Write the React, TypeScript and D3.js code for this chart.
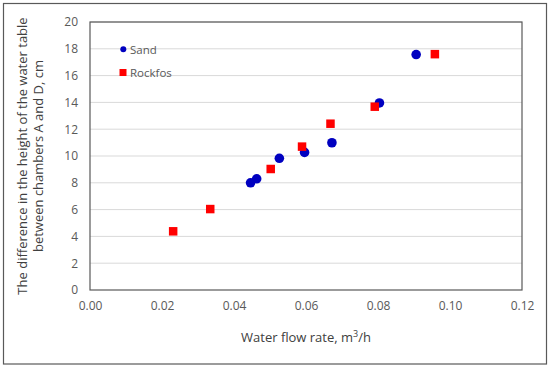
import React, { useEffect, useRef } from 'react';
import * as d3 from 'd3';

const sandFlow = [0.0446, 0.0463, 0.0526, 0.0596, 0.0672, 0.0804, 0.0906];
const sandHeight = [8.0, 8.3, 9.83, 10.27, 10.99, 13.96, 17.57];

const rockfosFlow = [0.0231, 0.0334, 0.0502, 0.0589, 0.0668, 0.0791, 0.0958];
const rockfosHeight = [4.38, 6.04, 9.03, 10.7, 12.41, 13.68, 17.6];

const xTicks = [0, 0.02, 0.04, 0.06, 0.08, 0.1, 0.12];
const yTicks = [0, 2, 4, 6, 8, 10, 12, 14, 16, 18, 20];

const BLUE = '#0000c0';
const RED = '#ff0000';
const FONT = 'Open Sans, sans-serif';

const App = () => {
  const ref = useRef<SVGSVGElement>(null);

  useEffect(() => {
    const svg = d3.select(ref.current);
    svg.selectAll('*').remove();

    const margin = { top: 22, right: 28, bottom: 78, left: 90 };
    const width = 550;
    const height = 368;

    const x = d3.scaleLinear().domain([0, 0.12]).range([margin.left, width - margin.right]);
    const y = d3.scaleLinear().domain([0, 20]).range([height - margin.bottom, margin.top]);

    // outer frame
    svg.append('rect')
      .attr('x', 3.5).attr('y', 3.5)
      .attr('width', 543).attr('height', 360.5)
      .attr('fill', '#fff').attr('stroke', '#595959').attr('stroke-width', 1.2);

    // gridlines
    svg.append('g')
      .selectAll('line')
      .data(yTicks.slice(1))
      .join('line')
      .attr('x1', x(0)).attr('x2', x(0.12))
      .attr('y1', d => y(d)).attr('y2', d => y(d))
      .attr('stroke', '#d9d9d9').attr('stroke-width', 1);

    // plot border
    svg.append('rect')
      .attr('x', x(0)).attr('y', y(20))
      .attr('width', x(0.12) - x(0)).attr('height', y(0) - y(20))
      .attr('fill', 'none').attr('stroke', '#595959').attr('stroke-width', 1.2);

    const yAxis = svg.append('g')
      .attr('transform', `translate(${x(0)},0)`)
      .call(d3.axisLeft(y).tickValues(yTicks).tickSize(0).tickPadding(12).tickFormat(d3.format('d')));
    yAxis.select('.domain').remove();

    const xAxis = svg.append('g')
      .attr('transform', `translate(0,${y(0)})`)
      .call(d3.axisBottom(x).tickValues(xTicks).tickSize(0).tickPadding(11).tickFormat(d3.format('.2f')));
    xAxis.select('.domain').remove();

    svg.selectAll('.tick text')
      .attr('fill', '#595959')
      .attr('font-family', FONT)
      .attr('font-size', 12);

    // data
    svg.append('g')
      .selectAll('circle')
      .data(sandFlow)
      .join('circle')
      .attr('cx', d => x(d))
      .attr('cy', (d, i) => y(sandHeight[i]))
      .attr('r', 4.8)
      .attr('fill', BLUE);

    const sq = 8.5;
    svg.append('g')
      .selectAll('rect')
      .data(rockfosFlow)
      .join('rect')
      .attr('x', d => x(d) - sq / 2)
      .attr('y', (d, i) => y(rockfosHeight[i]) - sq / 2)
      .attr('width', sq).attr('height', sq)
      .attr('fill', RED);

    // legend
    const lg = svg.append('g').attr('font-family', FONT).attr('font-size', 11.5).attr('fill', '#595959');
    lg.append('circle').attr('cx', 123.3).attr('cy', 49.3).attr('r', 3).attr('fill', BLUE);
    lg.append('text').attr('x', 130).attr('y', 53.5).text('Sand');
    lg.append('rect').attr('x', 119.5).attr('y', 69).attr('width', 7).attr('height', 7).attr('fill', RED);
    lg.append('text').attr('x', 130).attr('y', 77).text('Rockfos');

    // axis titles
    const cy = (y(0) + y(20)) / 2;
    const yt = svg.append('text')
      .attr('transform', `translate(27,${cy}) rotate(-90)`)
      .attr('text-anchor', 'middle')
      .attr('font-family', FONT).attr('font-size', 13).attr('fill', '#404040');
    yt.append('tspan').attr('x', 0).attr('dy', 0).text('The difference in the height of the water table');
    yt.append('tspan').attr('x', 0).attr('dy', 16).text('between chambers A and D, cm');

    const xt = svg.append('text')
      .attr('x', (x(0) + x(0.12)) / 2)
      .attr('y', 342)
      .attr('text-anchor', 'middle')
      .attr('font-family', FONT).attr('font-size', 13).attr('fill', '#404040');
    xt.append('tspan').text('Water flow rate, m');
    xt.append('tspan').attr('font-size', 9).attr('dy', -5).text('3');
    xt.append('tspan').attr('dy', 5).text('/h');
  }, []);

  return (
    <svg
      ref={ref}
      width={550}
      height={368}
      style={{ position: 'absolute', left: 0, top: 0 }}
    ></svg>
  );
};

export default App;
